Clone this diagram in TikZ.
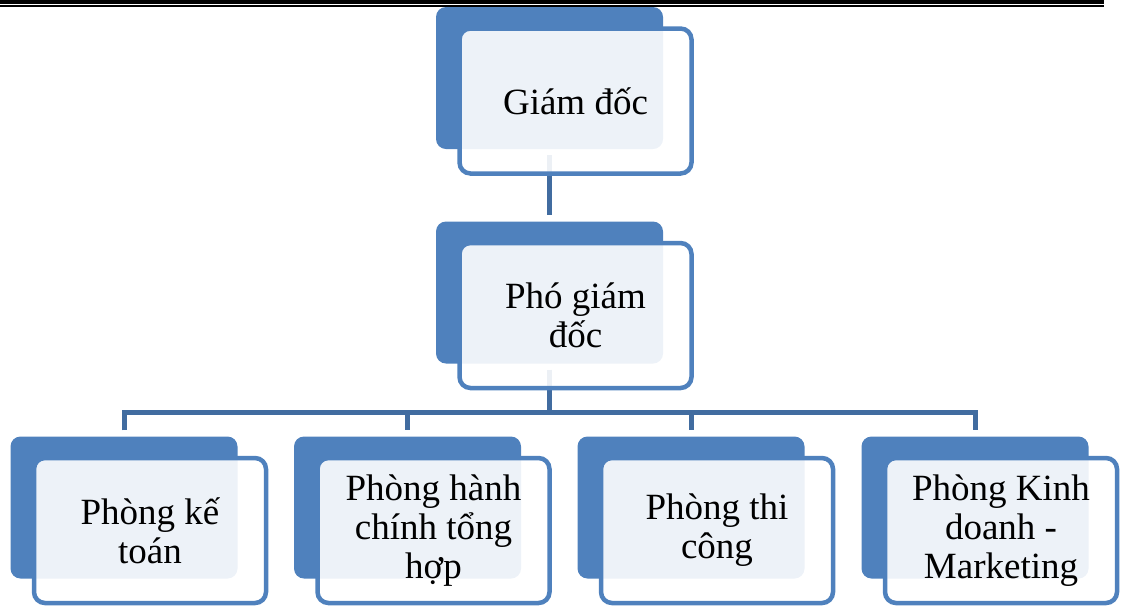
\documentclass[tikz,border=0pt]{standalone}
\usepackage{fontspec}
\setmainfont{Liberation Serif}
\usetikzlibrary{positioning}
\definecolor{boxblue}{RGB}{79,129,189}
\definecolor{linkblue}{RGB}{65,108,160}
\begin{document}
\begin{tikzpicture}[x=1pt,y=-1pt,
  backbox/.style={fill=boxblue,rounded corners=10pt,minimum width=227pt,minimum height=142pt,inner sep=0pt},
  frontbox/.style={draw=boxblue,line width=4.5pt,fill=white,fill opacity=0.9,text opacity=1,
    rounded corners=11pt,minimum width=232pt,minimum height=145pt,inner sep=0pt,align=center,
    font=\fontsize{37}{39}\selectfont,on grid},
  link/.style={draw=linkblue,line width=5pt}]
\useasboundingbox (0,0) rectangle (1121,606);
\fill[black] (0,0) rectangle (1104,4);
\fill[black] (0,5.3) rectangle (1104,6.8);
\node[backbox] (gdB) at (549.5,78) {};
\node[backbox] (pgdB) at (549.5,292.5) {};
\node[backbox] (ktB) at (124,507.5) {};
\node[backbox] (hcB) at (407.5,507.5) {};
\node[backbox] (tcB) at (691,507.5) {};
\node[backbox] (kdB) at (975,507.5) {};
\coordinate (bus) at (549.5,412.5);
\draw[link,shorten <=6pt,shorten >=6pt] (gdB) -- (pgdB);
\draw[link,shorten <=6pt] (pgdB) -- (pgdB |- bus);
\draw[link,shorten <=6pt,shorten >=6pt] (ktB.north) |- (bus) -| (kdB.north);
\draw[link,shorten >=6pt] (hcB.north |- bus) -- (hcB.north);
\draw[link,shorten >=6pt] (tcB.north |- bus) -- (tcB.north);
\node[frontbox,below right=23pt and 26pt of gdB] (gd) {Giám đốc};
\node[frontbox,below right=23pt and 26pt of pgdB] (pgd) {Phó giám\\đốc};
\node[frontbox,below right=23pt and 26pt of ktB] (kt) {Phòng kế\\toán};
\node[frontbox,below right=23pt and 26pt of hcB] (hc) {Phòng hành\\chính tổng\\hợp};
\node[frontbox,below right=23pt and 26pt of tcB] (tc) {Phòng thi\\công};
\node[frontbox,below right=23pt and 26pt of kdB] (kd) {Phòng Kinh\\doanh -\\Marketing};
\end{tikzpicture}
\end{document}
